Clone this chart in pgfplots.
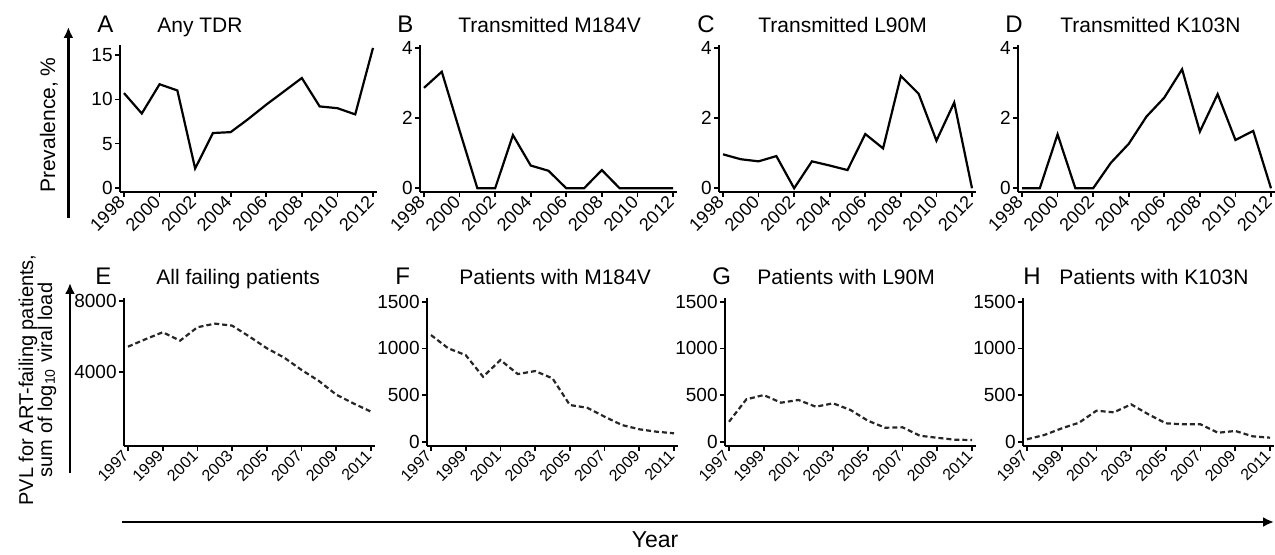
\documentclass[border=0pt]{standalone}
\usepackage{fontspec}
\setmainfont{Liberation Sans}
\usepackage{pgfplots}
\pgfplotsset{compat=1.18}
\usetikzlibrary{arrows.meta}

\pgfplotsset{
  panel/.style={
    scale only axis, anchor=south west,
    axis lines=left, axis line style={-, line width=0.8pt, black},
    tick align=outside, major tick length=2.5pt,
    tick style={black, line width=0.8pt},
    /pgf/number format/assume math mode=true,
    /pgf/number format/1000 sep={},
    yticklabel style={font=\fontsize{9.5}{10}\selectfont, inner sep=1pt},
  },
  toprow/.style={panel, width=128.5pt, height=73.5pt,
    xmin=1997.775, xmax=2012.225, xtick={1998,2000,...,2012},
    xticklabel style={rotate=45, anchor=east, inner sep=1.5pt, font=\fontsize{9}{10}\selectfont},
    ymin=-0.106, ymax=4.094, ytick={0,2,4}},
  botrow/.style={panel, width=125.5pt, height=74pt,
    xmin=1996.77, xmax=2011.23, xtick={1997,1999,...,2011},
    xticklabel style={rotate=45, anchor=east, inner sep=1.5pt, font=\fontsize{8}{9}\selectfont},
    ymin=-46, ymax=1540, ytick={0,500,1000,1500}},
  solidline/.style={black, line width=1.1pt, mark=none},
  dashline/.style={black!85, line width=1.1pt, mark=none, dash pattern=on 2.5pt off 1.5pt},
}

\begin{document}
\begin{tikzpicture}
\path[use as bounding box] (0pt,0pt) rectangle (637.5pt,-277.5pt);

% ---------- top row ----------
\begin{axis}[toprow, at={(60pt,-96pt)}, ymin=-0.451, ymax=16.127, ytick={0,5,10,15}]
\addplot[solidline] coordinates {(1998,10.7)(1999,8.4)(2000,11.7)(2001,11.0)(2002,2.2)(2003,6.2)(2004,6.3)(2005,7.8)(2006,9.4)(2007,10.9)(2008,12.4)(2009,9.2)(2010,9.0)(2011,8.3)(2012,15.8)};
\end{axis}

\begin{axis}[toprow, at={(210pt,-96pt)}]
\addplot[solidline] coordinates {(1998,2.87)(1999,3.33)(2000,1.65)(2001,0)(2002,0)(2003,1.52)(2004,0.65)(2005,0.50)(2006,0)(2007,0)(2008,0.52)(2009,0)(2010,0)(2011,0)(2012,0)};
\end{axis}

\begin{axis}[toprow, at={(359.5pt,-96pt)}]
\addplot[solidline] coordinates {(1998,0.97)(1999,0.83)(2000,0.77)(2001,0.92)(2002,0)(2003,0.77)(2004,0.65)(2005,0.52)(2006,1.55)(2007,1.14)(2008,3.21)(2009,2.70)(2010,1.36)(2011,2.45)(2012,0)};
\end{axis}

\begin{axis}[toprow, at={(509pt,-96pt)}]
\addplot[solidline] coordinates {(1998,0)(1999,0)(2000,1.54)(2001,0)(2002,0)(2003,0.73)(2004,1.27)(2005,2.05)(2006,2.59)(2007,3.40)(2008,1.62)(2009,2.69)(2010,1.38)(2011,1.64)(2012,0)};
\end{axis}

% ---------- bottom row ----------
\begin{axis}[botrow, at={(62pt,-223pt)}, ymin=-204, ymax=8170, ytick={4000,8000}]
\addplot[dashline] coordinates {(1997,5417)(1998,5835)(1999,6232)(2000,5756)(2001,6515)(2002,6720)(2003,6606)(2004,5984)(2005,5326)(2006,4795)(2007,4098)(2008,3475)(2009,2700)(2010,2200)(2011,1740)};
\end{axis}

\begin{axis}[botrow, at={(213.5pt,-223pt)}]
\addplot[dashline] coordinates {(1997,1143)(1998,1000)(1999,928)(2000,696)(2001,875)(2002,725)(2003,757)(2004,679)(2005,393)(2006,364)(2007,268)(2008,179)(2009,133)(2010,107)(2011,90)};
\end{axis}

\begin{axis}[botrow, at={(362.5pt,-223pt)}]
\addplot[dashline] coordinates {(1997,214)(1998,454)(1999,500)(2000,418)(2001,447)(2002,375)(2003,411)(2004,340)(2005,225)(2006,150)(2007,154)(2008,64)(2009,42)(2010,22)(2011,18)};
\end{axis}

\begin{axis}[botrow, at={(511.5pt,-223pt)}]
\addplot[dashline] coordinates {(1997,26)(1998,72)(1999,143)(2000,204)(2001,332)(2002,315)(2003,400)(2004,293)(2005,197)(2006,186)(2007,186)(2008,96)(2009,115)(2010,58)(2011,43)};
\end{axis}

% ---------- panel letters and titles ----------
\begin{scope}[every node/.style={inner sep=0pt, anchor=base west, font=\fontsize{10.5}{12}\selectfont}]
\node at (48.5pt,-16.5pt) {\fontsize{12}{13}\selectfont A};
\node at (198.5pt,-16.5pt) {\fontsize{12}{13}\selectfont B};
\node at (348.5pt,-16.5pt) {\fontsize{12}{13}\selectfont C};
\node at (502.5pt,-16.5pt) {\fontsize{12}{13}\selectfont D};
\node at (78.5pt,-16.5pt) {Any TDR};
\node at (229pt,-16.5pt) {Transmitted M184V};
\node at (379pt,-16.5pt) {Transmitted L90M};
\node at (530pt,-16.5pt) {Transmitted K103N};
\node at (47.5pt,-142.5pt) {\fontsize{12}{13}\selectfont E};
\node at (197.5pt,-142.5pt) {\fontsize{12}{13}\selectfont F};
\node at (356pt,-142.5pt) {\fontsize{12}{13}\selectfont G};
\node at (511.5pt,-142.5pt) {\fontsize{12}{13}\selectfont H};
\node at (78pt,-142.5pt) {All failing patients};
\node at (229.5pt,-142.5pt) {Patients with M184V};
\node at (378.5pt,-142.5pt) {Patients with L90M};
\node at (529.5pt,-142.5pt) {Patients with K103N};
\end{scope}

% ---------- arrows and axis titles ----------
\draw[line width=1.1pt, -{Latex[length=5.5pt,width=5pt]}] (34.2pt,-109pt) -- (34.2pt,-13.5pt);
\draw[line width=1.1pt, -{Latex[length=5.5pt,width=5pt]}] (35pt,-236.5pt) -- (35pt,-141.5pt);
\draw[line width=1.1pt, -{Latex[length=5.5pt,width=5pt]}] (61pt,-261pt) -- (637pt,-261pt);

\node[rotate=90, anchor=base, inner sep=0pt, font=\fontsize{10.5}{12}\selectfont] at (27.5pt,-62.5pt) {Prevalence, \%};
\node[rotate=90, anchor=base, inner sep=0pt, font=\fontsize{10}{12}\selectfont] at (16.5pt,-190pt) {PVL for ART-failing patients,};
\node[rotate=90, anchor=base, inner sep=0pt, font=\fontsize{10}{12}\selectfont] at (26pt,-190pt) {sum of log\textsubscript{10} viral load};
\node[anchor=base, inner sep=0pt, font=\fontsize{11.5}{13}\selectfont] at (327.5pt,-274pt) {Year};
\end{tikzpicture}
\end{document}
